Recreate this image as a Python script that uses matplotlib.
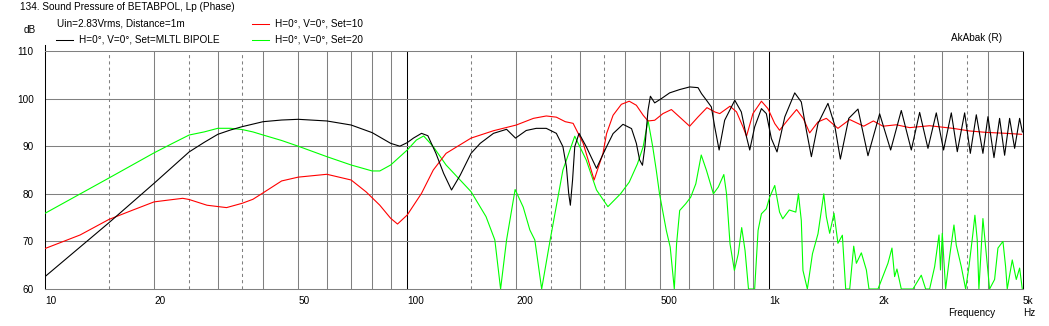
import numpy as np
import matplotlib
matplotlib.use("Agg")
import matplotlib.pyplot as plt

# H=0, V=0, Set=MLTL BIPOLE  (black)
black_f = [10, 15, 20, 25, 27.5, 30, 32.5, 35, 40, 45, 50, 60, 70, 80, 90, 95.4, 100, 104, 109.5, 114, 120,
           126, 132.5, 140, 150, 159, 173, 188, 199, 213, 227, 242, 258, 269, 275, 279, 282, 286, 290, 298,
           312, 333, 355, 370, 394, 416, 429, 438, 446, 453, 462, 469, 482, 503, 530, 565, 602, 635, 649,
           670, 691, 706, 726, 752, 802, 836, 864, 882, 910, 950, 980, 1012, 1049, 1102, 1174, 1224,
           1264, 1305, 1361, 1450, 1513, 1569, 1655, 1755, 1870, 2014, 2160, 2311, 2463, 2597, 2738,
           2887, 3024, 3176, 3299, 3457, 3584, 3723, 3883, 4009, 4166, 4317, 4457, 4601, 4750, 4903, 4990]
black_db = [62.6, 73.9, 82.2, 88.8, 90.8, 92.5, 93.4, 94.1, 95.15, 95.5, 95.65, 95.3, 94.45, 92.85, 90.6,
            90.0, 90.75, 91.7, 92.7, 92.2, 88.5, 84.3, 80.8, 83.9, 88.5, 90.6, 92.7, 93.55, 91.7, 93.3,
            93.75, 93.75, 92.7, 89.9, 85.7, 80.1, 77.6, 82.9, 89.9, 92.7, 89.9, 85.35, 89.9, 92.65, 94.6,
            93.7, 90.6, 87.1, 86.0, 89.9, 97.55, 100.5, 99.1, 100.0, 101.2, 101.9, 102.45, 102.3, 101.05,
            99.65, 98.25, 94.05, 89.2, 95.45, 99.65, 97.2, 91.95, 89.2, 94.05, 97.9, 96.85, 91.6, 88.8,
            96.15, 101.2, 99.3, 93.35, 87.8, 94.75, 99.0, 94.45, 87.3, 95.85, 97.8, 88.0, 96.8, 89.2, 97.5,
            89.2, 97.1, 89.55, 97.0, 89.2, 97.0, 88.85, 97.0, 88.5, 96.6, 88.5, 96.2, 87.6, 95.85, 88.1,
            95.85, 89.55, 95.85, 93.0]

# H=0, V=0, Set=10  (red)
red_f = [10, 12.5, 15, 17.5, 20, 22, 24, 25, 28, 31.7, 35, 37.5, 40, 45, 50, 60, 70, 77, 84, 90, 94, 100,
         109.5, 118, 128, 150, 173, 200, 223, 242, 258, 273, 287, 306, 328, 347, 355, 370, 390, 410, 429,
         448, 462, 482, 508, 536, 571, 602, 635, 672, 706, 729, 778, 811, 845, 864, 900, 950, 990, 1034,
         1066, 1126, 1188, 1240, 1291, 1361, 1435, 1545, 1665, 1820, 1935, 2057, 2239, 2437, 2767, 3209,
         3568, 3966, 4505, 4966]
red_db = [68.5, 71.35, 74.6, 76.6, 78.3, 78.7, 79.05, 78.8, 77.6, 77.1, 78.0, 78.85, 80.2, 82.7, 83.5,
          84.1, 82.9, 80.4, 77.6, 74.85, 73.65, 75.55, 80.1, 85.0, 88.5, 91.7, 93.25, 94.45, 95.85, 96.35,
          96.1, 95.15, 94.8, 90.6, 82.9, 88.5, 92.65, 96.5, 98.8, 99.45, 98.6, 96.5, 95.3, 95.45, 96.85,
          97.7, 95.8, 94.2, 96.15, 98.1, 97.2, 96.85, 98.4, 97.2, 94.05, 92.1, 96.85, 99.45, 97.9, 94.75,
          93.35, 95.6, 97.7, 95.8, 92.8, 95.1, 95.85, 93.75, 95.6, 94.2, 95.3, 94.2, 94.5, 93.9, 94.3,
          93.75, 93.2, 92.9, 92.7, 92.5]

# H=0, V=0, Set=20  (green)
green_f = [10, 15, 20, 22.5, 25, 27.5, 30, 32.5, 35, 37.5, 40, 45, 50, 60, 70, 80, 84, 90, 100, 106, 111,
           118, 128, 150, 165, 174.5, 181, 188, 198.5, 209, 218, 225, 235, 248, 269, 290, 312, 333, 358,
           388, 410, 432, 448, 462, 476, 487, 497, 519, 532, 546, 554, 565, 587, 606, 626, 648, 670, 700,
           722, 748, 761, 778, 800, 820, 838, 856, 875, 910, 930, 950, 980, 1001, 1034, 1066, 1088, 1134,
           1182, 1202, 1224, 1237, 1272, 1314, 1361, 1412, 1435, 1466, 1507, 1545, 1589, 1623, 1665, 1708,
           1737, 1793, 1851, 1882, 1993, 2123, 2178, 2215, 2248, 2311, 2489, 2624, 2698, 2767, 2857, 2937,
           2965, 2999, 3063, 3142, 3230, 3278, 3384, 3479, 3553, 3644, 3690, 3745, 3785, 3883, 3966, 4051,
           4182, 4272, 4410, 4485, 4532, 4679, 4800, 4903, 4987]
green_db = [75.9, 83.3, 88.6, 90.6, 92.35, 93.0, 93.76, 93.76, 93.5, 93.0, 92.35, 91.2, 90.0, 87.8, 86.05,
            84.8, 84.8, 86.05, 89.2, 91.3, 92.15, 89.9, 86.05, 80.45, 75.2, 70.3, 60.0, 70.3, 80.9, 77.2,
            72.4, 70.3, 60.0, 70.3, 85.0, 92.1, 87.1, 80.8, 77.3, 80.0, 82.45, 86.3, 89.9, 95.45, 89.9,
            84.9, 80.0, 72.3, 68.8, 60.0, 69.5, 76.5, 77.9, 79.3, 82.1, 88.15, 84.9, 80.0, 81.4, 84.05,
            80.0, 69.5, 63.9, 67.4, 72.9, 68.1, 60.0, 60.0, 72.3, 75.8, 76.85, 79.3, 81.75, 76.15, 74.75,
            76.6, 76.15, 80.0, 74.4, 63.9, 60.0, 67.4, 71.6, 80.0, 75.2, 71.7, 75.9, 69.6, 71.3, 60.0,
            60.0, 69.0, 65.4, 67.6, 64.0, 60.0, 60.0, 65.4, 68.6, 62.6, 64.2, 60.0, 60.0, 62.9, 60.0, 60.0,
            64.7, 71.35, 64.0, 71.7, 60.0, 66.8, 73.45, 69.2, 64.7, 60.0, 64.7, 71.7, 75.5, 70.3, 60.0,
            74.8, 67.4, 60.0, 62.0, 68.6, 70.0, 64.7, 60.0, 66.1, 62.0, 64.4, 60.0]

xtick_pos = [10, 20, 50, 100, 200, 500, 1000, 2000, 5000]
xtick_lab = ['10', '20', '50', '100', '200', '500', '1k', '2k', '5k']
ytick_pos = [60, 70, 80, 90, 100, 110]

W, H = 1049, 326
plt.rcParams['font.family'] = ['Liberation Sans', 'DejaVu Sans']
fig = plt.figure(figsize=(W / 100, H / 100), dpi=100)
ax = fig.add_axes([45 / W, 1 - 289 / H, 977.7 / W, 238 / H])

def px(x, y):
    return x / W, 1 - y / H

grey = '#808080'
fs = 7.2
lw = 0.75

# grid
solid = [20, 30, 40, 50, 60, 70, 80, 90, 200, 300, 400, 500, 600, 700, 800, 900, 2000, 3000, 4000]
dashed = [15, 25, 35, 150, 250, 350, 1500, 2500, 3500]
for v in solid:
    ax.axvline(v, color=grey, lw=lw, zorder=1)
for v in dashed:
    ax.axvline(v, color=grey, lw=lw, ls=(0, (3, 3)), zorder=1)
for v in [100, 1000]:
    ax.axvline(v, color='black', lw=lw, zorder=1)
for v in [70, 80, 90, 100]:
    ax.axhline(v, color=grey, lw=lw, zorder=1)

ax.plot(green_f, green_db, color='#00ff00', lw=0.8, zorder=3)
ax.plot(red_f, red_db, color='#ff0000', lw=0.8, zorder=4)
ax.plot(black_f, black_db, color='black', lw=0.8, zorder=5)

ax.set_xscale('log')
ax.set_xlim(10, 5000)
ax.set_ylim(60, 110)
ax.xaxis.set_minor_locator(matplotlib.ticker.NullLocator())
ax.set_xticks(xtick_pos)
ax.set_xticklabels(xtick_lab, ha='left', fontsize=fs)
ax.set_yticks(ytick_pos)
ax.set_yticklabels([str(v) for v in ytick_pos], fontsize=fs)
ax.tick_params(axis='x', length=0, pad=5)
ax.tick_params(axis='y', length=0, pad=8)

for s in ['top', 'bottom']:
    ax.spines[s].set_color(grey)
    ax.spines[s].set_linewidth(lw)
for s in ['left', 'right']:
    ax.spines[s].set_color('black')
    ax.spines[s].set_linewidth(lw)
ax.plot([0, 0], [1, 1.025], transform=ax.transAxes, color='black', lw=lw, clip_on=False)

# texts
fig.text(*px(20, 7), '134. Sound Pressure of BETABPOL, Lp (Phase)', fontsize=fs, va='center')
fig.text(*px(57, 24), 'Uin=2.83Vrms, Distance=1m', fontsize=fs, va='center')
fig.text(*px(36, 30), 'dB', fontsize=fs, va='center', ha='right')
fig.text(*px(1002, 38), 'AkAbak (R)', fontsize=fs, va='center', ha='right')
fig.text(*px(995, 313), 'Frequency', fontsize=fs, va='center', ha='right')
fig.text(*px(1023, 313), 'Hz', fontsize=fs, va='center', ha='left')

legend_items = [(56, 40, 'black', 'H=0°, V=0°, Set=MLTL BIPOLE'),
                (252, 24, '#ff0000', 'H=0°, V=0°, Set=10'),
                (252, 40, '#00ff00', 'H=0°, V=0°, Set=20')]
for x0, y0, c, label in legend_items:
    fig.add_artist(plt.Line2D([x0 / W, (x0 + 17) / W], [1 - y0 / H] * 2, color=c, lw=lw))
    fig.text(*px(x0 + 23, y0), label, fontsize=fs, va='center')

fig.savefig('out.png', dpi=100)
